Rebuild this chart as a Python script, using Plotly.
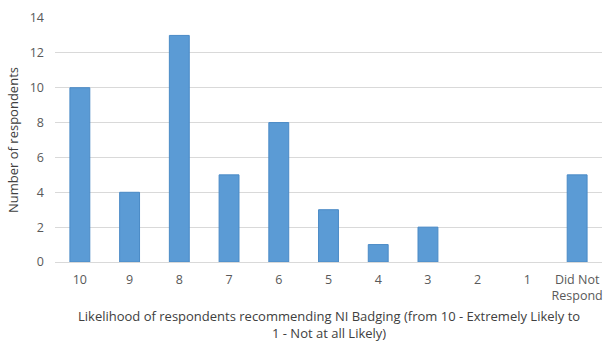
import plotly.graph_objects as go

categories = ["10", "9", "8", "7", "6", "5", "4", "3", "2", "1", "Did Not<br>Respond"]
values = [10, 4, 13, 5, 8, 3, 1, 2, 0, 0, 5]
y_ticks = [0, 2, 4, 6, 8, 10, 12, 14]

FONT = "Open Sans, Liberation Sans, sans-serif"
GREY = "#595959"

fig = go.Figure()
fig.add_trace(go.Bar(
    x=categories, y=values,
    marker=dict(color="#5B9BD5",
                line=dict(color="#4A8AC6", width=[1 if v > 0 else 0 for v in values])),
    width=0.4,
))

fig.update_layout(
    width=612, height=351,
    margin=dict(l=55, r=9, t=13, b=89),
    paper_bgcolor="white", plot_bgcolor="white",
    showlegend=False,
    font=dict(family=FONT, size=12, color=GREY),
    xaxis=dict(
        type="category", showgrid=False, showline=False, ticks="",
        ticklabelstandoff=8,
        tickfont=dict(size=12.5, color=GREY),
    ),
    yaxis=dict(
        range=[0, 14], tickvals=y_ticks, showgrid=True, gridcolor="#D9D9D9",
        gridwidth=1, zeroline=True, zerolinecolor="#D9D9D9", zerolinewidth=1,
        showline=False, ticks="", ticklabelstandoff=10,
        tickfont=dict(size=12.5, color=GREY),
        title=dict(text="Number of respondents", font=dict(size=13, color="#404040"), standoff=8),
    ),
)

fig.add_annotation(
    text="Likelihood of respondents recommending NI Badging (from 10 - Extremely Likely to<br>1 - Not at all Likely)",
    xref="paper", yref="paper", x=0.5, y=0, yshift=-43, yanchor="top",
    showarrow=False, align="center",
    font=dict(size=13, color="#404040", family=FONT),
)

fig.write_html("out.html")
